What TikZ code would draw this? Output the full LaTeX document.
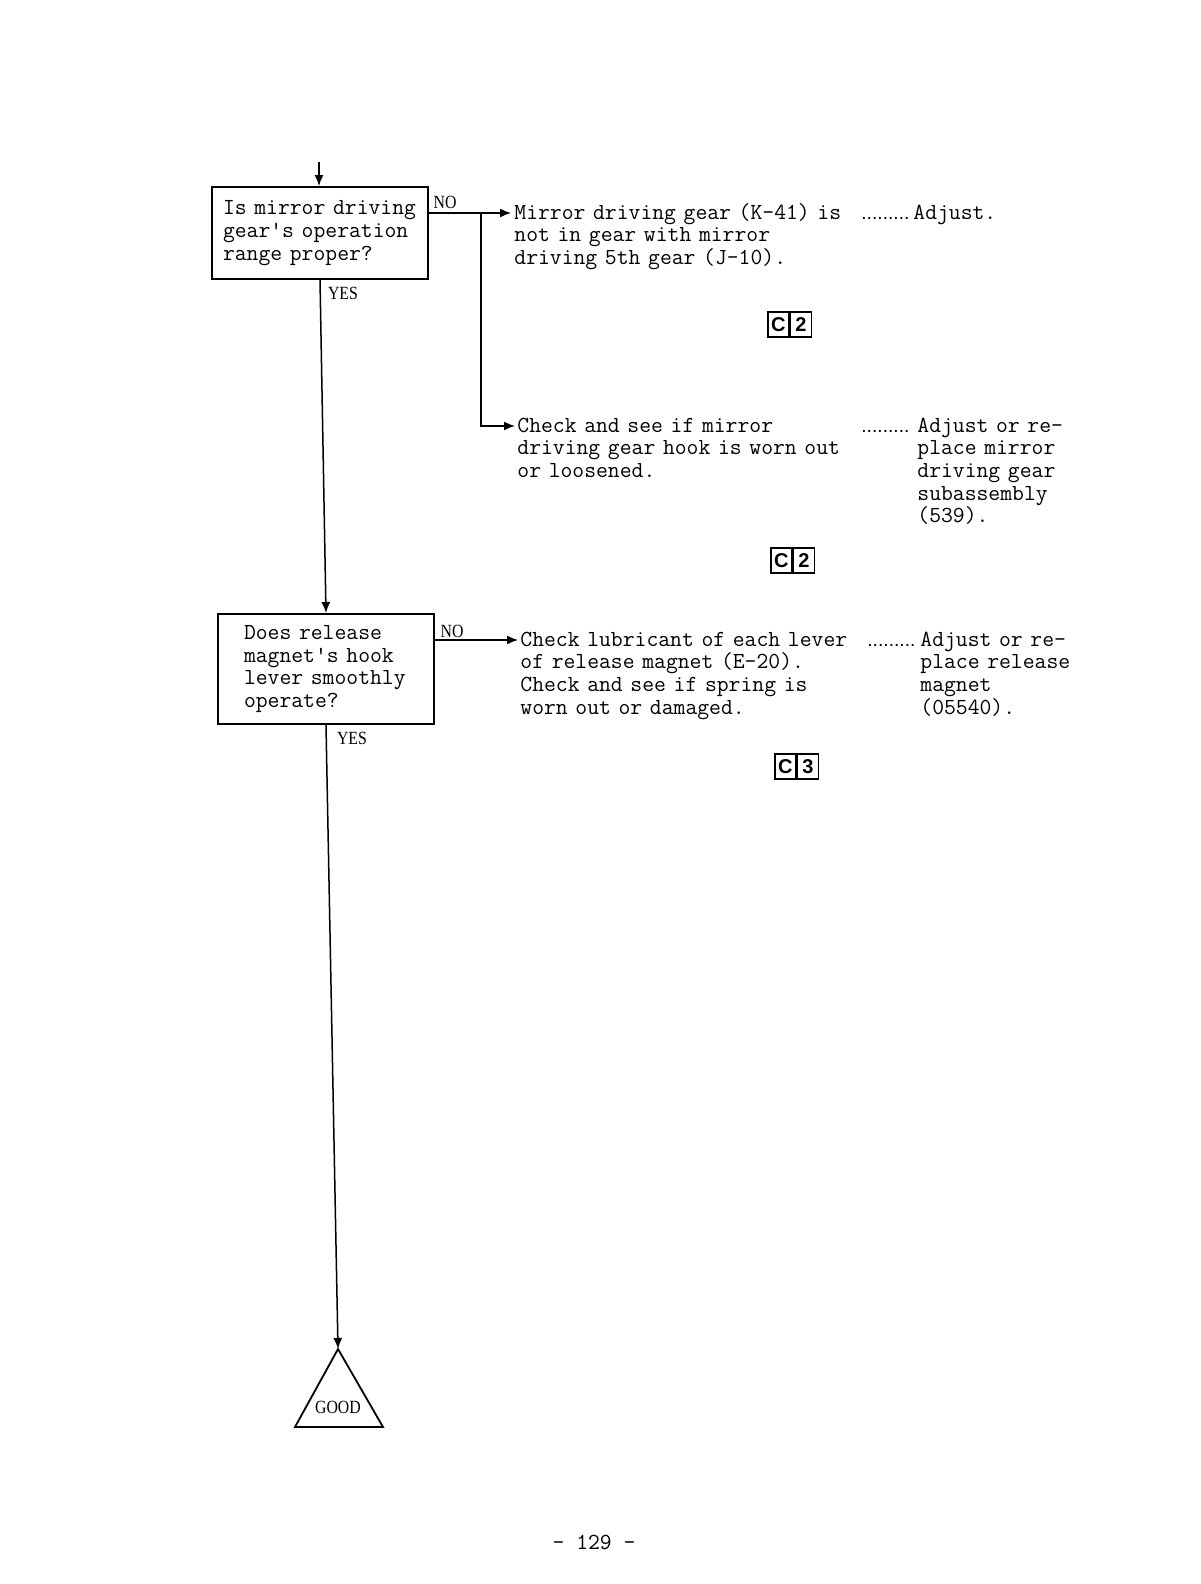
\documentclass[tikz,border=0pt]{standalone}
\usepackage{fontspec}
\newfontfamily\lblfont[FakeStretch=0.85]{Liberation Serif}
\newfontfamily\cfont{Liberation Sans}
\usetikzlibrary{arrows.meta}
\begin{document}
\begin{tikzpicture}[x=0.5pt,y=-0.5pt,
  ttf/.style={font=\ttfamily\fontsize{11.5}{11.35}\selectfont},
  txt/.style={ttf, inner sep=0pt, anchor=base west, align=left},
  box/.style={draw, line width=1pt, ttf, align=left, inner ysep=2pt},
  lbl/.style={font=\lblfont\fontsize{9.3}{10}\selectfont, inner sep=0pt},
  conn/.style={line width=0.75pt},
  arr/.style={conn, -{Latex[length=5.5pt,width=4.5pt]}},
  cbox/.style={draw, line width=0.8pt, font=\cfont\bfseries\fontsize{10}{10}\selectfont, minimum width=10.5pt, minimum height=12.5pt, inner sep=0pt},
  leader/.style={font=\cfont\fontsize{9.6}{10}\selectfont, inner sep=0pt, anchor=base west}
]
\useasboundingbox (0,0) rectangle (1200,1584);

% decision boxes
\node[box, text width=97pt, inner xsep=5.5pt, minimum height=46pt] (q1) at (320,233)
  {Is mirror driving\\gear's operation\\range proper?};
\node[box, text width=82pt, inner xsep=13pt, minimum height=55pt] (q2) at (326,669)
  {Does release\\magnet's hook\\lever smoothly\\operate?};

% incoming arrow
\coordinate (top) at (319,162);
\draw[arr] (top) -- (q1.north -| top);

% result texts
\node[txt, text width=175pt] (t1) at (514,219)
  {Mirror driving gear (K-41) is\\not in gear with mirror\\driving 5th gear (J-10).};
\node[leader] (d1) at (861,219) {.........};
\node[txt, text width=80pt] (r1) at (913,219) {Adjust.};

\node[txt, text width=175pt] (t2) at (517,432)
  {Check and see if mirror\\driving gear hook is worn out\\or loosened.};
\node[leader] (d2) at (861,432) {.........};
\node[txt, text width=80pt] (r2) at (917,432)
  {Adjust or re-\\place mirror\\driving gear\\subassembly\\(539).};

\node[txt, text width=175pt] (t3) at (520,646)
  {Check lubricant of each lever\\of release magnet (E-20).\\Check and see if spring is\\worn out or damaged.};
\node[leader] (d3) at (867,646) {.........};
\node[txt, text width=80pt] (r3) at (920,646)
  {Adjust or re-\\place release\\magnet\\(05540).};

% NO connectors
\coordinate (a1) at (511,213);
\coordinate (br) at (481,213);
\coordinate (a2) at (515,426);
\coordinate (a3) at (518,640);
\draw[arr] (q1.east |- a1) -- (a1);
\draw[arr] (br) |- (a2);
\draw[arr] (q2.east |- a3) -- (a3);

\node[lbl] (no1) at (445,202) {NO};
\node[lbl] (no2) at (452,631) {NO};
\node[lbl] (yes1) at (343,293) {YES};
\node[lbl] (yes2) at (352,738) {YES};

% YES connectors
\draw[arr] (q1.south) -- (q2.north);
\coordinate (good) at (338,1349);
\draw[arr] (q2.south) -- (good);

% GOOD triangle
\draw[line width=0.9pt] (good) -- (295,1427) -- (383,1427) -- cycle;
\node[lbl] (goodt) at (338,1407) {GOOD};

% reference codes
\node[cbox, anchor=north west] (c1a) at (767,311) {C};
\node[cbox, anchor=west] (c1b) at (c1a.east) {2};
\node[cbox, anchor=north west] (c2a) at (770,547) {C};
\node[cbox, anchor=west] (c2b) at (c2a.east) {2};
\node[cbox, anchor=north west] (c3a) at (774,753) {C};
\node[cbox, anchor=west] (c3b) at (c3a.east) {3};

% page number
\node[ttf, inner sep=0pt] (page) at (594,1542) {- 129 -};
\end{tikzpicture}
\end{document}
